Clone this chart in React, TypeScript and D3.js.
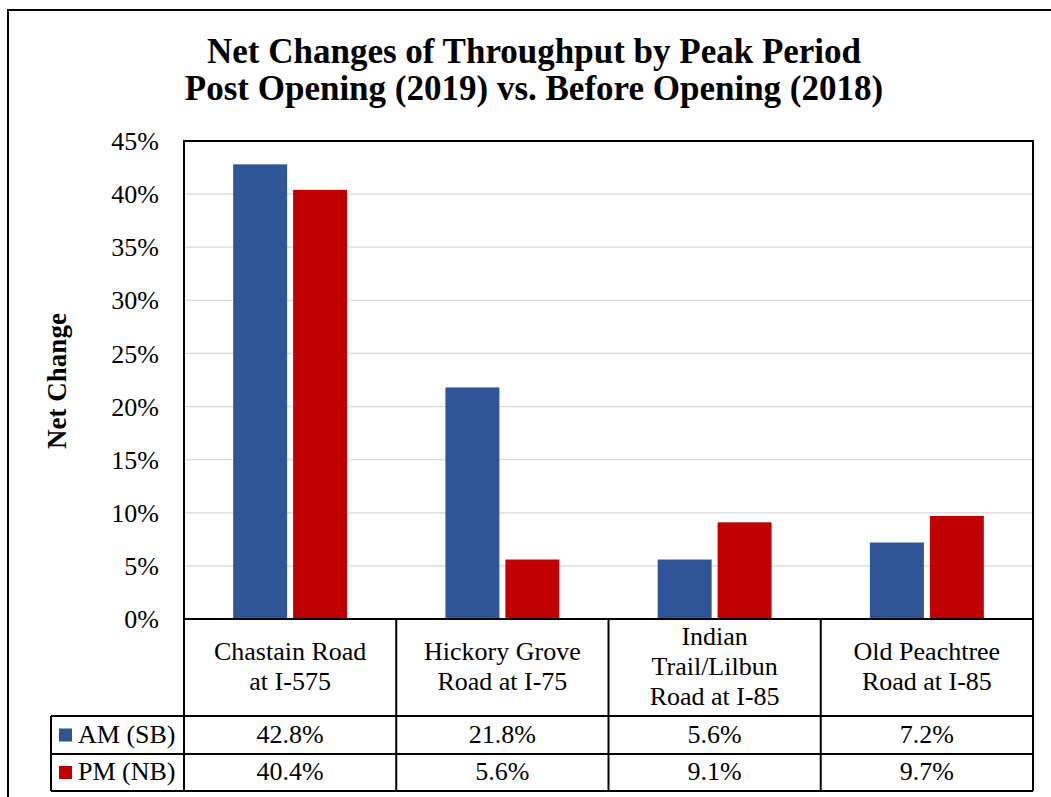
import React from "react";
import * as d3 from "d3";

const categories: string[][] = [
  ["Chastain Road", "at I-575"],
  ["Hickory Grove", "Road at I-75"],
  ["Indian", "Trail/Lilbun", "Road at I-85"],
  ["Old Peachtree", "Road at I-85"],
];
const seriesNames = ["AM (SB)", "PM (NB)"];
const amValues = [42.8, 21.8, 5.6, 7.2];
const pmValues = [40.4, 5.6, 9.1, 9.7];
const yTicks = [0, 5, 10, 15, 20, 25, 30, 35, 40, 45];
const titleLines = [
  "Net Changes of Throughput by Peak Period",
  "Post Opening (2019) vs. Before Opening (2018)",
];

const COLORS = ["#2F5597", "#C00000"];
const FONT = '"Liberation Serif", "Times New Roman", Times, serif';

export default function App() {
  const W = 1051;
  const H = 797;
  const plot = { left: 184, right: 1033, top: 141, bottom: 619 };
  const rowCat = 716;
  const rowAm = 754;
  const rowPm = 791;
  const legendLeft = 51;

  const y = d3.scaleLinear().domain([0, 45]).range([plot.bottom, plot.top]);
  const x0 = d3
    .scaleBand<number>()
    .domain(categories.map((_, i) => i))
    .range([plot.left, plot.right]);
  const x1 = d3
    .scaleBand<number>()
    .domain([0, 1])
    .range([0, x0.bandwidth()])
    .paddingInner(0.1)
    .paddingOuter(0.82);

  const series = [amValues, pmValues];
  const rowsY = [
    [rowCat, rowAm],
    [rowAm, rowPm],
  ];

  return (
    <svg
      width={W}
      height={H}
      style={{ position: "absolute", left: 0, top: 0, background: "#fff", fontFamily: FONT }}
    >
      <rect x={0} y={0} width={W} height={H} fill="#fff" />
      {/* outer frame */}
      <rect x={8} y={10} width={W + 20} height={H + 20} fill="none" stroke="#000" strokeWidth={2} />

      {/* title */}
      {titleLines.map((t, i) => (
        <text
          key={i}
          x={534}
          y={63 + i * 37}
          textAnchor="middle"
          fontSize={35}
          fontWeight="bold"
        >
          {t}
        </text>
      ))}

      {/* gridlines */}
      {yTicks.slice(1, -1).map((t) => (
        <line
          key={t}
          x1={plot.left}
          x2={plot.right}
          y1={y(t)}
          y2={y(t)}
          stroke="#d9d9d9"
          strokeWidth={1.3}
        />
      ))}

      {/* bars */}
      {categories.map((_, ci) =>
        series.map((vals, si) => (
          <rect
            key={`${ci}-${si}`}
            x={(x0(ci) as number) + (x1(si) as number)}
            y={y(vals[ci])}
            width={x1.bandwidth()}
            height={y(0) - y(vals[ci])}
            fill={COLORS[si]}
          />
        ))
      )}

      {/* y tick labels */}
      {yTicks.map((t) => (
        <text
          key={t}
          x={159}
          y={y(t)}
          dy="0.35em"
          textAnchor="end"
          fontSize={26}
        >
          {`${t}%`}
        </text>
      ))}

      {/* y axis title */}
      <text
        transform={`translate(66, 381) rotate(-90)`}
        textAnchor="middle"
        fontSize={27}
        fontWeight="bold"
      >
        Net Change
      </text>

      {/* plot frame */}
      <rect
        x={plot.left}
        y={plot.top}
        width={plot.right - plot.left}
        height={plot.bottom - plot.top}
        fill="none"
        stroke="#000"
        strokeWidth={2}
      />

      {/* data table */}
      <g stroke="#000" strokeWidth={2} fill="none">
        <line x1={plot.left} x2={plot.right} y1={rowCat} y2={rowCat} />
        <line x1={legendLeft} x2={plot.right} y1={rowAm} y2={rowAm} />
        <line x1={legendLeft} x2={plot.right} y1={rowPm} y2={rowPm} />
        <line x1={legendLeft} x2={plot.left} y1={rowCat} y2={rowCat} />
        <line x1={legendLeft} x2={legendLeft} y1={rowCat} y2={rowPm} />
        {categories.map((_, ci) => (
          <line
            key={ci}
            x1={x0(ci) as number}
            x2={x0(ci) as number}
            y1={plot.bottom}
            y2={rowPm}
          />
        ))}
        <line x1={plot.right} x2={plot.right} y1={plot.bottom} y2={rowPm} />
      </g>

      {/* category labels */}
      {categories.map((lines, ci) => {
        const cx = (x0(ci) as number) + x0.bandwidth() / 2;
        const cy = (plot.bottom + rowCat) / 2;
        const lh = 30;
        const start = cy - ((lines.length - 1) * lh) / 2;
        return (
          <text key={ci} textAnchor="middle" fontSize={26}>
            {lines.map((l, li) => (
              <tspan key={li} x={cx} y={start + li * lh} dy="0.3em">
                {l}
              </tspan>
            ))}
          </text>
        );
      })}

      {/* legend keys and values */}
      {series.map((vals, si) => {
        const [top, bot] = rowsY[si];
        const cy = (top + bot) / 2;
        return (
          <g key={si}>
            <rect x={59} y={cy - 6.5} width={13} height={13} fill={COLORS[si]} />
            <text x={78} y={cy} dy="0.3em" fontSize={26}>
              {seriesNames[si]}
            </text>
            {vals.map((v, ci) => (
              <text
                key={ci}
                x={(x0(ci) as number) + x0.bandwidth() / 2}
                y={cy}
                dy="0.3em"
                textAnchor="middle"
                fontSize={26}
              >
                {`${v.toFixed(1)}%`}
              </text>
            ))}
          </g>
        );
      })}
    </svg>
  );
}
